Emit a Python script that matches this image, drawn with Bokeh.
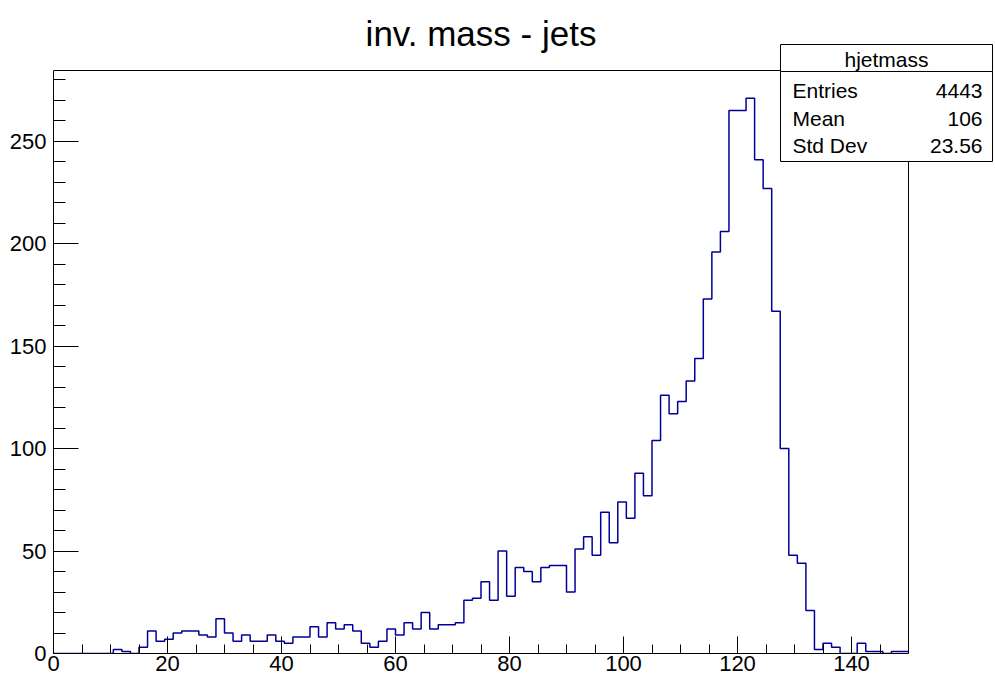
from bokeh.plotting import figure
from bokeh.models import Range1d, SingleIntervalTicker, Label, PolyAnnotation
from bokeh.embed import file_html
from bokeh.resources import INLINE

# ---- data ----
bin_width = 1.5
n_bins = 100
x_min, x_max = 0.0, 150.0
counts = [
    0, 0, 0, 0, 0, 0, 0, 2, 1, 0,
    3, 11, 6, 7, 10, 11, 11, 9, 8, 17,
    10, 6, 9, 6, 6, 9, 6, 5, 8, 8,
    13, 8, 15, 12, 14, 11, 5, 3, 6, 12,
    9, 15, 12, 20, 12, 14, 14, 15, 26, 27,
    35, 26, 50, 28, 42, 40, 35, 42, 43, 43,
    30, 51, 57, 48, 69, 54, 74, 66, 88, 77,
    104, 126, 117, 123, 133, 144, 173, 196, 206, 265,
    265, 271, 241, 227, 167, 100, 48, 44, 21, 2,
    5, 3, 0, 0, 5, 1, 1, 0, 1, 1,
]
title_text = "inv. mass - jets"
stat_name = "hjetmass"
stat_labels = ["Entries", "Mean", "Std Dev"]
stat_values = ["4443", "106", "23.56"]
x_tick_interval = 20
y_tick_interval = 50

edges = [x_min + i * bin_width for i in range(n_bins + 1)]
step_y = counts + [counts[-1]]
y_max = 1.05 * max(counts)

# ---- layout (canvas pixels) ----
W, H = 995, 681
FL, FR, FT, FB = 53, 908, 70, 653          # drawn frame of the histogram
# the Bokeh frame is widened to the canvas right/top so the stats box is not clipped
x_end = x_max + (W - FR) * (x_max - x_min) / (FR - FL)
y_end = y_max * (FB - 0) / (FB - FT)

FONT = "Liberation Sans"
LINE = "#000099"

p = figure(width=W, height=H, output_backend="svg", toolbar_location=None, title=None,
           x_range=Range1d(x_min, x_end), y_range=Range1d(0, y_end),
           min_border_left=FL, min_border_right=0, min_border_top=0,
           min_border_bottom=H - FB)
p.background_fill_color = "white"
p.border_fill_color = "white"
p.outline_line_color = None
p.xgrid.visible = False
p.ygrid.visible = False

p.xaxis.ticker = SingleIntervalTicker(interval=x_tick_interval, num_minor_ticks=4)
p.yaxis.ticker = SingleIntervalTicker(interval=y_tick_interval, num_minor_ticks=5)
p.xaxis.bounds = (x_min, x_max)
p.yaxis.bounds = (0, y_max)
for ax in (p.xaxis, p.yaxis):
    ax.axis_line_color = "black"
    ax.axis_line_width = 1
    ax.major_tick_line_color = "black"
    ax.minor_tick_line_color = "black"
    ax.major_tick_out = 0
    ax.minor_tick_out = 0
    ax.major_label_text_font = FONT
    ax.major_label_text_font_size = "22px"
    ax.major_label_text_color = "black"
p.xaxis.major_tick_in = 17
p.xaxis.minor_tick_in = 9
p.yaxis.major_tick_in = 25
p.yaxis.minor_tick_in = 12
p.xaxis.major_label_standoff = 2
p.yaxis.major_label_standoff = 7

# top and right sides of the histogram frame
p.segment(x0=[x_min, x_max], y0=[y_max, 0], x1=[x_max, x_max], y1=[y_max, y_max],
          line_color="black", line_width=1)

# histogram outline
p.step(x=edges, y=step_y, mode="after", line_color=LINE, line_width=1.5)

# title
p.add_layout(Label(x=(FL + FR) / 2, y=33, x_units="canvas", y_units="canvas",
                   text=title_text, text_font=FONT, text_font_size="35px",
                   text_align="center", text_baseline="alphabetic", text_color="black"))

# ---- statistics box ----
bx0, bx1, by0, by1, by2 = 780, 992, 44, 71, 161
for top, bottom in ((by0, by1), (by1, by2)):
    p.add_layout(PolyAnnotation(xs=[bx0, bx1, bx1, bx0], ys=[top, top, bottom, bottom],
                                xs_units="canvas", ys_units="canvas",
                                fill_color="white", fill_alpha=1.0,
                                line_color="black", line_alpha=1.0, line_width=1))
p.add_layout(Label(x=(bx0 + bx1) / 2, y=59, x_units="canvas", y_units="canvas",
                   text=stat_name, text_font=FONT, text_font_size="21px",
                   text_align="center", text_baseline="middle", text_color="black"))
row_y = [90, 118, 145]
for lab, val, yy in zip(stat_labels, stat_values, row_y):
    p.add_layout(Label(x=bx0 + 12, y=yy, x_units="canvas", y_units="canvas",
                       text=lab, text_font=FONT, text_font_size="21px",
                       text_align="left", text_baseline="middle", text_color="black"))
    p.add_layout(Label(x=bx1 - 10, y=yy, x_units="canvas", y_units="canvas",
                       text=val, text_font=FONT, text_font_size="21px",
                       text_align="right", text_baseline="middle", text_color="black"))

open("out.html", "w").write(file_html(p, INLINE))
